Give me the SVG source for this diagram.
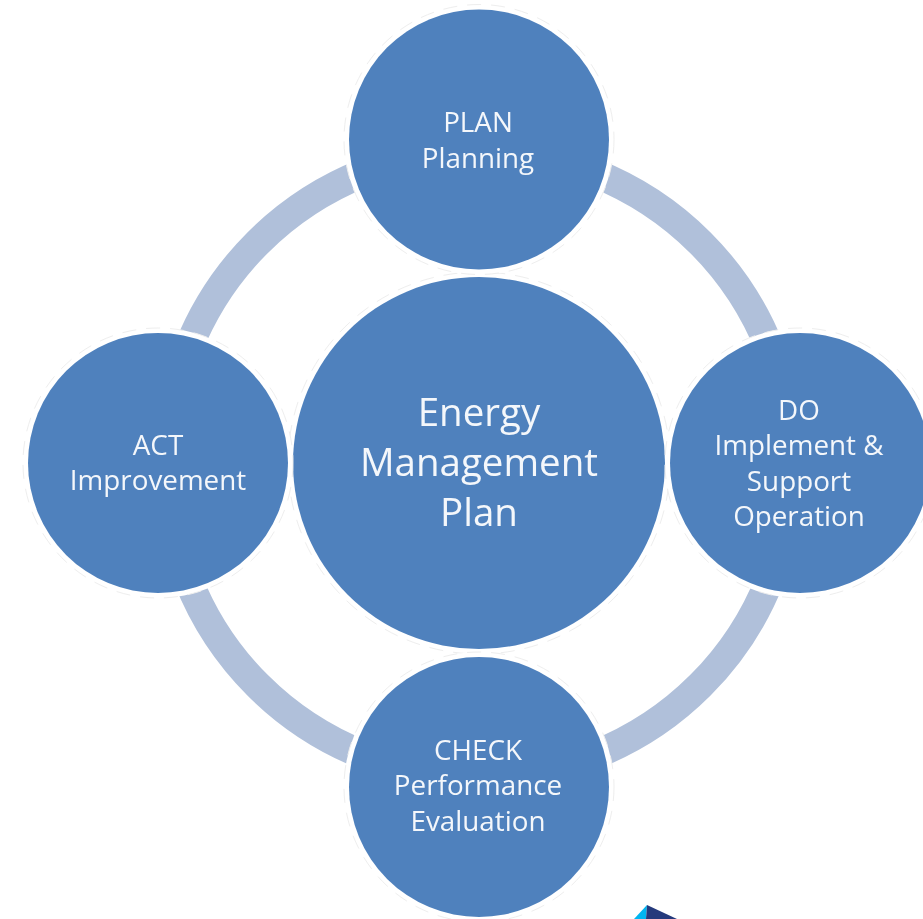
<svg xmlns="http://www.w3.org/2000/svg" width="923" height="919" viewBox="0 0 923 919">
<defs><filter id="soft" x="-5%" y="-5%" width="110%" height="110%"><feGaussianBlur stdDeviation="0.6"/></filter></defs>
<style>
.h{fill:#fff;stroke:#eeeeee;stroke-width:1;stroke-dasharray:14 10}
.n{fill:#4f81bd;filter:url(#soft)}
.r{fill:none;stroke:#b0c0da;stroke-width:29}
text{font-family:"Open Sans","Noto Sans",sans-serif;fill:#f4f7fb;text-anchor:middle;filter:url(#soft)}
.s{font-size:27.8px}
.b{font-size:38.5px}
</style>
<rect width="923" height="919" fill="#fff"/>
<g id="connectors"><circle class="r" cx="479" cy="464" r="313"/></g>
<g id="center"><circle class="h" cx="479" cy="463" r="191"/><circle class="n" cx="479" cy="463" r="186"/><text class="b" x="479" y="426">Energy</text><text class="b" x="479" y="476">Management</text><text class="b" x="479" y="526">Plan</text></g>
<g id="plan"><circle class="h" cx="479" cy="139.5" r="135"/><circle class="n" cx="479" cy="139.5" r="130"/><text class="s" x="478" y="132">PLAN</text><text class="s" x="478" y="167.5">Planning</text></g>
<g id="do"><circle class="h" cx="800" cy="463" r="135"/><circle class="n" cx="800" cy="463" r="130"/><text class="s" x="799" y="420">DO</text><text class="s" x="799" y="455">Implement &amp;</text><text class="s" x="799" y="491">Support</text><text class="s" x="799" y="526">Operation</text></g>
<g id="check"><circle class="h" cx="479" cy="787" r="135"/><circle class="n" cx="479" cy="787" r="130"/><text class="s" x="478" y="760">CHECK</text><text class="s" x="478" y="795">Performance</text><text class="s" x="478" y="831">Evaluation</text></g>
<g id="act"><circle class="h" cx="158" cy="463" r="135"/><circle class="n" cx="158" cy="463" r="130"/><text class="s" x="158" y="455">ACT</text><text class="s" x="158" y="490">Improvement</text></g>
<polygon points="634,919 647,905 646,919" fill="#00b5f1"/><polygon points="647,905 677,919 646,919" fill="#253a7c"/>
</svg>
